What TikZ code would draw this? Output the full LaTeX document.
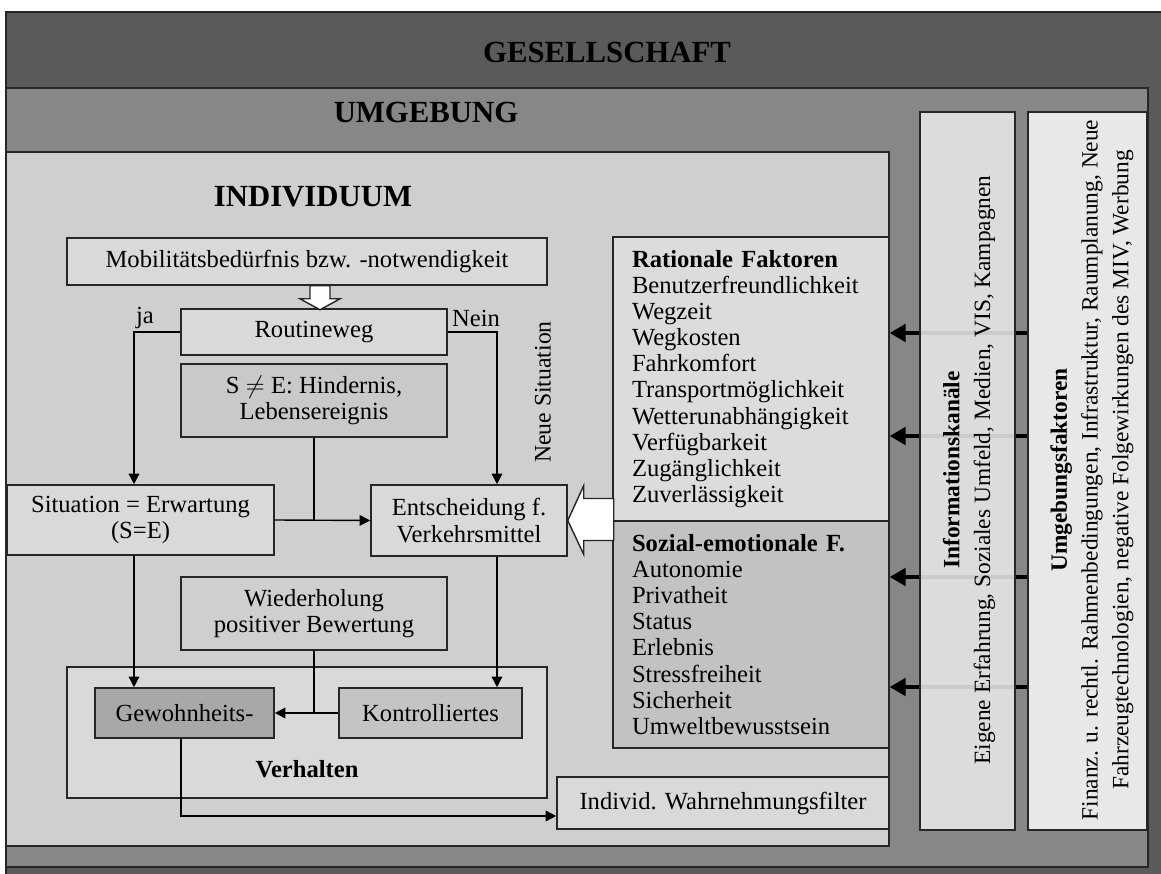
\documentclass[tikz,border=0pt]{standalone}
\usepackage{fontspec}
\setmainfont{Liberation Serif}
\usepackage{tikz}
\usetikzlibrary{arrows.meta}
\definecolor{gesellgray}{HTML}{5A5A5A}
\definecolor{umgebgray}{HTML}{878787}
\definecolor{indivgray}{HTML}{CFCFCF}
\definecolor{boxgray}{HTML}{D9D9D9}
\definecolor{hindgray}{HTML}{C9C9C9}
\definecolor{habitgray}{HTML}{A8A8A8}
\definecolor{controlgray}{HTML}{C4C4C4}
\definecolor{rationalgray}{HTML}{DCDCDC}
\definecolor{sozialgray}{HTML}{C2C2C2}
\definecolor{channelgray}{HTML}{E8E8E8}
\definecolor{linegray}{HTML}{262626}
\tikzset{
    framebox/.style = {
        draw=linegray,
        line width=0.9pt
    },
    titlenode/.style = {
        font=\fontsize{17.5}{20}\selectfont\bfseries,
        inner sep=0pt
    },
    flowbox/.style = {
        rectangle,
        draw=linegray,
        line width=0.9pt,
        fill=boxgray,
        align=center,
        font=\fontsize{14}{15}\selectfont,
        inner sep=0pt
    },
    factorbox/.style = {
        flowbox,
        align=left,
        font=\fontsize{14}{14.9}\selectfont,
        text width=4.76cm,
        inner xsep=0.38cm,
        minimum width=5.52cm
    },
    channelbox/.style = {
        rectangle,
        draw=linegray,
        line width=0.9pt,
        fill=channelgray,
        minimum width=1.9cm,
        minimum height=14.36cm
    },
    channeltext/.style = {
        rotate=90,
        align=center,
        font=\fontsize{13.3}{17.5}\selectfont,
        inner sep=0pt
    },
    labelnode/.style = {
        font=\fontsize{14}{15}\selectfont,
        inner sep=0pt
    },
    flowline/.style = {
        draw=black,
        line width=0.8pt
    },
    flowarrow/.style = {
        flowline,
        -{Triangle[length=6pt,width=6pt]}
    },
    inflow/.style = {
        draw=black,
        line width=1.8pt,
        -{Triangle[length=9pt,width=10pt]}
    },
    blockarrow/.style = {
        draw=linegray,
        line width=0.8pt,
        fill=white
    }
}
\begin{document}
\begin{tikzpicture}[x=0.02cm, y=-0.02cm]
    \useasboundingbox (0,0) rectangle (1161,874);
    \draw [framebox, fill=gesellgray] (6,12) rectangle (1180,890);
    \draw [framebox, fill=umgebgray] (6,88) rectangle (1148,867);
    \draw [framebox, fill=indivgray] (6,152) rectangle (889,846);

    \node [titlenode] (gesellschaft) at (607,52) {GESELLSCHAFT};
    \node [titlenode] (umgebung) at (426,112) {UMGEBUNG};
    \node [titlenode] (individuum) at (313,197) {INDIVIDUUM};

    \node [flowbox, minimum width=9.6cm, minimum height=0.94cm] (mobil) at (307,261.5) {Mobilitätsbedürfnis bzw. -notwendigkeit};
    \node [flowbox, minimum width=5.32cm, minimum height=0.92cm] (routine) at (314,332) {Routineweg};
    \node [flowbox, fill=hindgray, minimum width=5.32cm, minimum height=1.46cm] (hindernis) at (314,400.5) {S $\neq$ E: Hindernis,\\ Lebensereignis};
    \node [flowbox, minimum width=5.34cm, minimum height=1.4cm] (situation) at (140.5,520) {Situation = Erwartung\\ (S=E)};
    \node [flowbox, minimum width=3.92cm, minimum height=1.42cm] (entscheidung) at (469,520.5) {Entscheidung f.\\ Verkehrsmittel};
    \node [flowbox, fill=indivgray, minimum width=5.32cm, minimum height=1.46cm] (wiederholung) at (314,613.5) {Wiederholung\\ positiver Bewertung};
    \node [flowbox, minimum width=9.6cm, minimum height=2.62cm] (verhalten) at (307,732.5) {};
    \node [labelnode, font=\fontsize{14}{15}\selectfont\bfseries] (verhaltenlabel) at (307,769) {Verhalten};
    \node [flowbox, fill=habitgray, minimum width=3.58cm, minimum height=1cm] (gewohnheit) at (184.5,713) {Gewohnheits-};
    \node [flowbox, fill=controlgray, minimum width=3.66cm, minimum height=1cm] (kontrolle) at (430.5,713) {Kontrolliertes};

    \node [factorbox, fill=rationalgray, minimum height=5.68cm] (rational) at (751,379) {\textbf{Rationale Faktoren}\\ Benutzerfreundlichkeit\\ Wegzeit\\ Wegkosten\\ Fahrkomfort\\ Transportmöglichkeit\\ Wetterunabhängigkeit\\ Verfügbarkeit\\ Zugänglichkeit\\ Zuverlässigkeit};
    \node [factorbox, fill=sozialgray, minimum height=4.54cm] (sozial) at (751,634.5) {\textbf{Sozial-emotionale F.}\\ Autonomie\\ Privatheit\\ Status\\ Erlebnis\\ Stressfreiheit\\ Sicherheit\\ Umweltbewusstsein};
    \node [flowbox, fill=boxgray, minimum width=6.64cm, minimum height=1.04cm] (filter) at (723,803) {Individ. Wahrnehmungsfilter};

    \node [labelnode] (ja) at (145,318) {ja};
    \node [labelnode] (nein) at (476,318) {Nein};
    \node [labelnode, rotate=90, font=\fontsize{13.5}{15}\selectfont] (neuesituation) at (543,392) {Neue Situation};

    \draw [flowarrow] (routine.west) -| ([xshift=-0.13cm]situation.north);
    \draw [flowarrow] (routine.east) -| ([xshift=0.56cm]entscheidung.north);
    \draw [flowline] (hindernis.south) -- (hindernis.south |- situation.east);
    \draw [flowarrow] (situation.east) -- (entscheidung.west);
    \draw [flowarrow] ([xshift=-0.13cm]situation.south) -- ([xshift=-0.13cm]situation.south |- gewohnheit.north);
    \draw [flowarrow] ([xshift=0.56cm]entscheidung.south) -- ([xshift=0.56cm]entscheidung.south |- kontrolle.north);
    \draw [flowline] (wiederholung.south) -- (wiederholung.south |- gewohnheit.east);
    \draw [flowarrow] (kontrolle.west) -- (gewohnheit.east);
    \draw [flowarrow] ([xshift=-0.07cm]gewohnheit.south) |- ([yshift=-0.26cm]filter.west);

    \draw [blockarrow] ([xshift=0.06cm]mobil.south) -- ++(0,13) -- ++(-10,0) -- ++(20,11) -- ++(20,-11) -- ++(-10,0) -- ++(0,-13) -- cycle;
    \draw [blockarrow] (entscheidung.east) -- ++(16,-35) -- ++(0,13) -- ++(30,0) -- ++(0,42) -- ++(-30,0) -- ++(0,14) -- cycle;

    \node [channelbox, minimum width=2.38cm] (umgeb) at (1087.5,471) {};
    \foreach \y/\target in {333/rational, 436/rational, 577/sozial, 687/sozial} {
        \coordinate (level) at (0,\y);
        \draw [inflow] (umgeb.west |- level) -- (\target.east |- level);
    }
    \node [channelbox, fill opacity=0.88, text opacity=1] (info) at (967.5,471) {};

    \node [channeltext] (infotext) at (969,470) {\textbf{Informationskanäle}\\ Eigene Erfahrung, Soziales Umfeld, Medien, VIS, Kampagnen};
    \node [channeltext] (umgebtext) at (1092,470) {\textbf{Umgebungsfaktoren}\\ Finanz. u. rechtl. Rahmenbedingungen, Infrastruktur, Raumplanung, Neue\\ Fahrzeugtechnologien, negative Folgewirkungen des MIV, Werbung};
\end{tikzpicture}
\end{document}
